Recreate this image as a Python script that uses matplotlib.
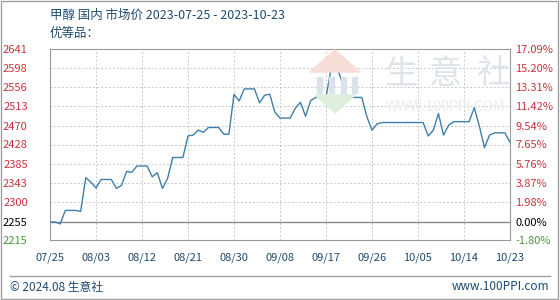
import matplotlib
matplotlib.use("Agg")
import matplotlib.pyplot as plt
import matplotlib.dates as mdates
from matplotlib.patches import Polygon, Rectangle
import pandas as pd

plt.rcParams['font.family'] = ['Noto Sans CJK SC', 'DejaVu Sans']

dates = pd.date_range('2023-07-25', '2023-10-23', freq='D')
prices = [2255, 2255, 2251, 2281, 2281, 2281, 2279, 2354, 2344, 2331,
          2350, 2350, 2350, 2330, 2337, 2368, 2366, 2380, 2380, 2380,
          2356, 2365, 2330, 2352, 2399, 2399, 2399, 2447, 2449, 2460,
          2455, 2466, 2466, 2466, 2451, 2451, 2540, 2525, 2552, 2552,
          2552, 2521, 2538, 2540, 2500, 2487, 2487, 2487, 2509, 2522,
          2491, 2526, 2533, 2533, 2533, 2598, 2605, 2572, 2537, 2533,
          2533, 2533, 2490, 2460, 2474, 2477, 2477, 2477, 2477, 2477,
          2477, 2477, 2477, 2477, 2447, 2460, 2497, 2449, 2471, 2479,
          2479, 2479, 2479, 2510, 2469, 2421, 2449, 2454, 2454, 2454,
          2433]

base = 2255
y_ticks = [2215, 2255, 2300, 2343, 2385, 2428, 2470, 2513, 2556, 2598, 2641]
pct_labels = ['-1.80%', '0.00%', '1.98%', '3.87%', '5.76%', '7.65%',
              '9.54%', '11.42%', '13.31%', '15.20%', '17.09%']
x_ticks = pd.date_range('2023-07-25', '2023-10-23', freq='9D')

red = '#c8323c'
green = '#4a9a3a'
navy = '#1e4a6e'

fig = plt.figure(figsize=(5.6, 3.0), dpi=100)
ax = fig.add_axes([50/560, 60/300, 460/560, 191/300])

# watermark (logo + site name)
wm = '#dfe4eb'
for ch, cx in zip('生意社', (401, 446, 493)):
    fig.text(cx/560, 1 - 74/300, ch, fontsize=24, color=wm, ha='center', va='center',
             zorder=0)
fig.text(445/560, 1 - 107/300, 'WWW.100PPI.COM', fontsize=10, color='#e8ecf0',
         ha='center', va='center', zorder=0)
roof = Polygon([(310/560, 1 - 72/300), (335/560, 1 - 50/300), (360/560, 1 - 72/300)],
               closed=True, transform=fig.transFigure, color='#f6ddd7', zorder=0)
fig.patches.append(roof)
for bx in (317, 329, 341, 352):
    fig.patches.append(Rectangle((bx/560, 1 - 93/300), 5/560, 16/300,
                                 transform=fig.transFigure, color='#dce2ec', zorder=0))
vee = Polygon([(315/560, 1 - 95/300), (355/560, 1 - 95/300), (335/560, 1 - 113/300)],
              closed=True, transform=fig.transFigure, color='#dcefdd', zorder=0)
fig.patches.append(vee)
ax.patch.set_alpha(0)

ax.plot(dates, prices, color='#3f7fab', lw=1.0, zorder=3)
ax.axhline(base, color='#8a8a8a', lw=1.0, zorder=2)

ax.set_xlim(dates[0], dates[-1])
ax.set_ylim(y_ticks[0], y_ticks[-1])
ax.set_yticks(y_ticks)
ax.set_yticklabels([str(v) for v in y_ticks])
ax.set_xticks(x_ticks)
ax.xaxis.set_major_formatter(mdates.DateFormatter('%m/%d'))
ax.grid(True, color='#c8c8c8', linestyle=(0, (2, 2)), lw=0.7)
ax.tick_params(length=0, labelsize=8)
ax.tick_params(axis='x', colors=navy, pad=9)
ax.tick_params(axis='y', pad=16)
for s in ax.spines.values():
    s.set_color('#999999')

for lbl, v in zip(ax.get_yticklabels(), y_ticks):
    lbl.set_color('black' if v == base else (green if v < base else red))

ax2 = ax.twinx()
ax2.set_ylim(ax.get_ylim())
ax2.set_yticks(y_ticks)
ax2.set_yticklabels(pct_labels)
ax2.tick_params(length=0, labelsize=8, pad=4)
for s in ax2.spines.values():
    s.set_visible(False)
for lbl, v in zip(ax2.get_yticklabels(), y_ticks):
    lbl.set_color('black' if v == base else (green if v < base else red))

fig.text(50/560, 1 - 15/300, '甲醇 国内 市场价 2023-07-25 - 2023-10-23', fontsize=9,
         color=navy, va='center')
fig.text(50/560, 1 - 33/300, '优等品：', fontsize=9, color=navy, va='center')

fig.add_artist(plt.Line2D([10/560, 550/560], [1 - 276/300, 1 - 276/300],
                          color='#a0a0a0', lw=1.0))
fig.text(10/560, 1 - 287/300, '© 2024.08 生意社', fontsize=8.5, color=navy, va='center')
fig.text(549/560, 1 - 287/300, 'www.100PPI.com', fontsize=8.5, color=navy, va='center',
         ha='right')
fig.add_artist(Rectangle((1/560, 1/300), 557/560, 298/300, transform=fig.transFigure,
                         fill=False, edgecolor='#a0a0a0', lw=1.0))

fig.savefig('out.png', dpi=100)
